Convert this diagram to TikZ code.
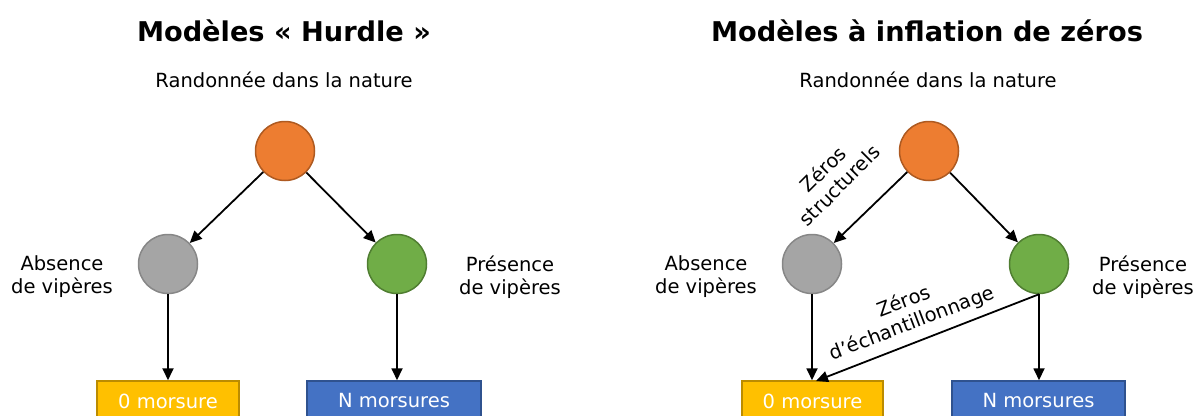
\documentclass[tikz,border=0pt]{standalone}
\usepackage{fontspec}
\setmainfont{DejaVu Sans}
\usetikzlibrary{arrows.meta}
\definecolor{cOrange}{HTML}{ED7D31}
\definecolor{cOrangeB}{HTML}{AE5A21}
\definecolor{cGray}{HTML}{A5A5A5}
\definecolor{cGrayB}{HTML}{878787}
\definecolor{cGreen}{HTML}{70AD47}
\definecolor{cGreenB}{HTML}{507E32}
\definecolor{cYellow}{HTML}{FFC000}
\definecolor{cYellowB}{HTML}{BC8C00}
\definecolor{cBlue}{HTML}{4472C4}
\definecolor{cBlueB}{HTML}{2F528F}
\tikzset{
  txt/.style={font=\fontsize{19.5}{23}\selectfont, align=center, inner sep=0pt},
  ttl/.style={font=\fontsize{27.2}{30}\selectfont\bfseries, inner sep=0pt},
  dot/.style={circle, minimum size=59pt, inner sep=0pt, line width=1.5pt},
  orangedot/.style={dot, fill=cOrange, draw=cOrangeB},
  graydot/.style={dot, fill=cGray, draw=cGrayB},
  greendot/.style={dot, fill=cGreen, draw=cGreenB},
  outbox/.style={rectangle, minimum height=40pt, inner sep=0pt, line width=1.5pt, text=white, font=\fontsize{19.5}{23}\selectfont},
  yellowbox/.style={outbox, fill=cYellow, draw=cYellowB, minimum width=142pt},
  bluebox/.style={outbox, fill=cBlue, draw=cBlueB, minimum width=174pt},
  arr/.style={-{Triangle[length=12pt,width=11pt]}, line width=1.8pt, black},
}
\begin{document}
\begin{tikzpicture}[x=1pt,y=-1pt]
\useasboundingbox (0,0) rectangle (1193,415);
% ---------- left panel ----------
\node[ttl] (titleL) at (284,31) {Modèles « Hurdle »};
\node[txt] (rootL) at (284,80) {Randonnée dans la nature};
\node[orangedot] (oL) at (285,151) {};
\node[graydot] (gL) at (168,264) {};
\node[greendot] (vL) at (397,264) {};
\node[txt] (absL) at (62,277) {Absence\\de vipères};
\node[txt] (preL) at (510,277) {Présence\\de vipères};
\node[yellowbox] (zL) at (168,401) {0 morsure};
\node[bluebox] (nL) at (394,401) {N morsures};
\draw[arr] (oL) -- (gL);
\draw[arr] (oL) -- (vL);
\draw[arr] (gL) -- (gL |- zL.north);
\draw[arr] (vL) -- (vL |- nL.north);
% ---------- right panel ----------
\node[ttl] (titleR) at (927,31) {Modèles à inflation de zéros};
\node[txt] (rootR) at (928,80) {Randonnée dans la nature};
\node[orangedot] (oR) at (929,151) {};
\node[graydot] (gR) at (812,264) {};
\node[greendot] (vR) at (1039,264) {};
\node[txt] (absR) at (706,277) {Absence\\de vipères};
\node[txt] (preR) at (1143,277) {Présence\\de vipères};
\node[yellowbox, minimum width=141pt] (zR) at (812.5,401) {0 morsure};
\node[bluebox, minimum width=173pt] (nR) at (1038.5,401) {N morsures};
\coordinate (zRin) at (816,381);
\draw[arr] (oR) -- (gR);
\draw[arr] (oR) -- (vR);
\draw[arr] (gR) -- (gR |- zR.north);
\draw[arr] (vR) -- (vR |- nR.north);
\draw[arr] (vR.south) -- (zRin);
\node[txt, rotate=45] (lblS) at (831,177) {Zéros\\structurels};
\node[txt, rotate=21] (lblE) at (908,313) {Zéros\\d’échantillonnage};
\end{tikzpicture}
\end{document}
